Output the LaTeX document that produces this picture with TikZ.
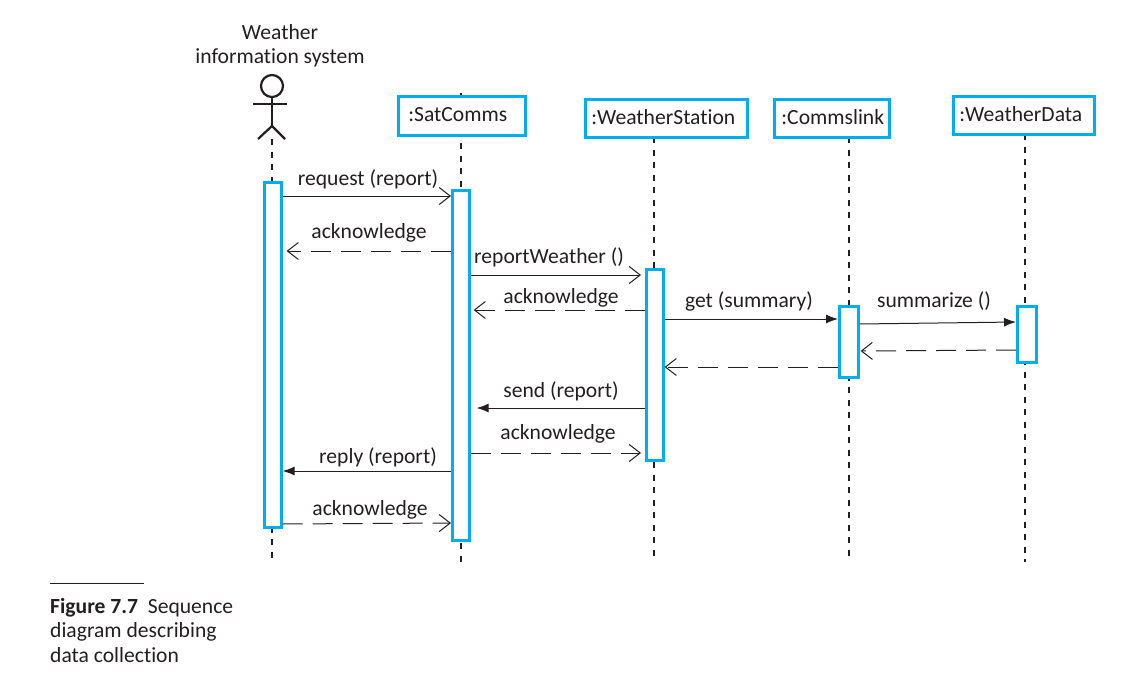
\documentclass[tikz,border=0pt]{standalone}
\usepackage{fontspec}
\setmainfont[Ligatures=NoCommon]{Carlito}
\definecolor{mycyan}{RGB}{0,174,239}
\definecolor{myink}{RGB}{35,31,32}
\usetikzlibrary{arrows.meta,calc,positioning}
\tikzstyle{object}=[draw=mycyan,line width=2.6pt,fill=white,inner sep=0pt,anchor=north west]
\tikzstyle{bar}=[draw=mycyan,line width=2.6pt,fill=white,inner sep=0pt,anchor=north west,minimum width=17pt]
\tikzstyle{lifeline}=[myink,line width=2.4pt,dash pattern=on 6pt off 6.5pt]
\tikzstyle{sync}=[myink,line width=1pt,-{Latex[length=12pt,width=9pt]}]
\tikzstyle{open}=[myink,line width=1pt,-{Straight Barb[length=11pt,width=17pt,line width=1pt]}]
\tikzstyle{reply}=[open,dash pattern=on 20pt off 10pt]
\tikzstyle{msg}=[text=myink,font=\fontsize{21.6}{24}\selectfont,inner sep=0pt]
\begin{document}
\begin{tikzpicture}[x=1pt,y=-1pt]
\useasboundingbox (0,0) rectangle (1134,674);
% lifelines first, the boxes sit on top
\coordinate (top1) at (272,139);
\coordinate (end1) at (272,562);
\coordinate (top2) at (461,93);
\coordinate (end2) at (461,562);
\coordinate (top3) at (654,137);
\coordinate (end3) at (654,558);
\coordinate (top4) at (849,137);
\coordinate (end4) at (849,558);
\coordinate (top5) at (1025,134);
\coordinate (end5) at (1025,562);
\foreach \i in {1,...,5} {
	\draw[lifeline] (top\i) -- (end\i);
}
% objects
\node [object,minimum width=127pt,minimum height=39pt] (sat) at (397,95) {};
\node [object,minimum width=162pt,minimum height=38pt] (station) at (584,98) {};
\node [object,minimum width=115pt,minimum height=38pt] (link) at (773,98) {};
\node [object,minimum width=141pt,minimum height=38pt] (data) at (952,95) {};
\node [msg] (satname) at ($(sat.center)+(-4,-1)$) {:SatComms};
\node [msg] (stationname) at ($(station.center)+(-3,-1)$) {:WeatherStation};
\node [msg] (linkname) at ($(link.center)+(1,-1)$) {:Commslink};
\node [msg] (dataname) at ($(data.center)+(-3,-1)$) {:WeatherData};
% actor
\node [msg,align=center] (actorname) at (280,46) {Weather\\information system};
\node [draw=myink,line width=2.2pt,circle,minimum size=22pt,inner sep=0pt] (head) at (272,86) {};
\coordinate (neck) at (272,126);
\coordinate (armleft) at (253,104);
\coordinate (armright) at (287,104);
\coordinate (legleft) at (258,139);
\coordinate (legright) at (285,139);
\draw[myink,line width=2.2pt] (head.south) -- (neck);
\draw[myink,line width=2.2pt] (armleft) -- (armright);
\draw[myink,line width=2.2pt] (legleft) -- (neck) -- (legright);
% activation bars
\node [bar,minimum height=345pt] (b1) at (263,181) {};
\node [bar,minimum height=350pt] (b2) at (451,189) {};
\node [bar,minimum height=191pt] (b3) at (645,268) {};
\node [bar,minimum width=19pt,minimum height=71pt] (b4) at (838,305) {};
\node [bar,minimum width=19pt,minimum height=56pt] (b5) at (1016,305) {};
% messages
\draw[open] (b1.east |- 0,196) -- (b2.west |- 0,196);
\draw[reply] (b2.west |- 0,251) -- ($(b1.east |- 0,251)+(4,0)$);
\draw[open] (b2.east |- 0,275) -- ($(b3.west |- 0,275)+(-4,0)$);
\draw[reply] (b3.west |- 0,310) -- ($(b2.east |- 0,310)+(3,0)$);
\draw[sync] (b3.east |- 0,319) -- (b4.west |- 0,319);
\draw[sync] (b4.east |- 0,324) -- (b5.west |- 0,322);
\draw[reply] (b5.west |- 0,350) -- ($(b4.east |- 0,351)+(1,0)$);
\draw[reply] (b4.west |- 0,367) -- (b3.east |- 0,367);
\draw[sync] (b3.west |- 0,408) -- ($(b2.east |- 0,408)+(6,0)$);
\draw[reply] (b2.east |- 0,453) -- ($(b3.west |- 0,453)+(-4,0)$);
\draw[sync] (b2.west |- 0,471) -- (b1.east |- 0,471);
\draw[reply] (b1.east |- 0,524) -- (b2.west |- 0,523);
% labels
\node [msg] (l1) at (368,179) {request (report)};
\node [msg] (l2) at (369,233) {acknowledge};
\node [msg] (l3) at (549,257) {reportWeather ()};
\node [msg] (l4) at (561,298) {acknowledge};
\node [msg] (l5) at (749,301) {get (summary)};
\node [msg] (l6) at (934,301) {summarize ()};
\node [msg] (l7) at (561,391) {send (report)};
\node [msg] (l8) at (558,434) {acknowledge};
\node [msg] (l9) at (378,457) {reply (report)};
\node [msg] (l10) at (370,510) {acknowledge};
% caption
\coordinate (ruleleft) at (50,583);
\coordinate (ruleright) at (144,583);
\draw[myink,line width=1pt] (ruleleft) -- (ruleright);
\node [msg,anchor=north west,align=left,font=\fontsize{21.6}{24.5}\selectfont] (caption) at (50,598) {\textbf{Figure 7.7}\ \ Sequence\\diagram describing\\data collection};
\end{tikzpicture}
\end{document}
